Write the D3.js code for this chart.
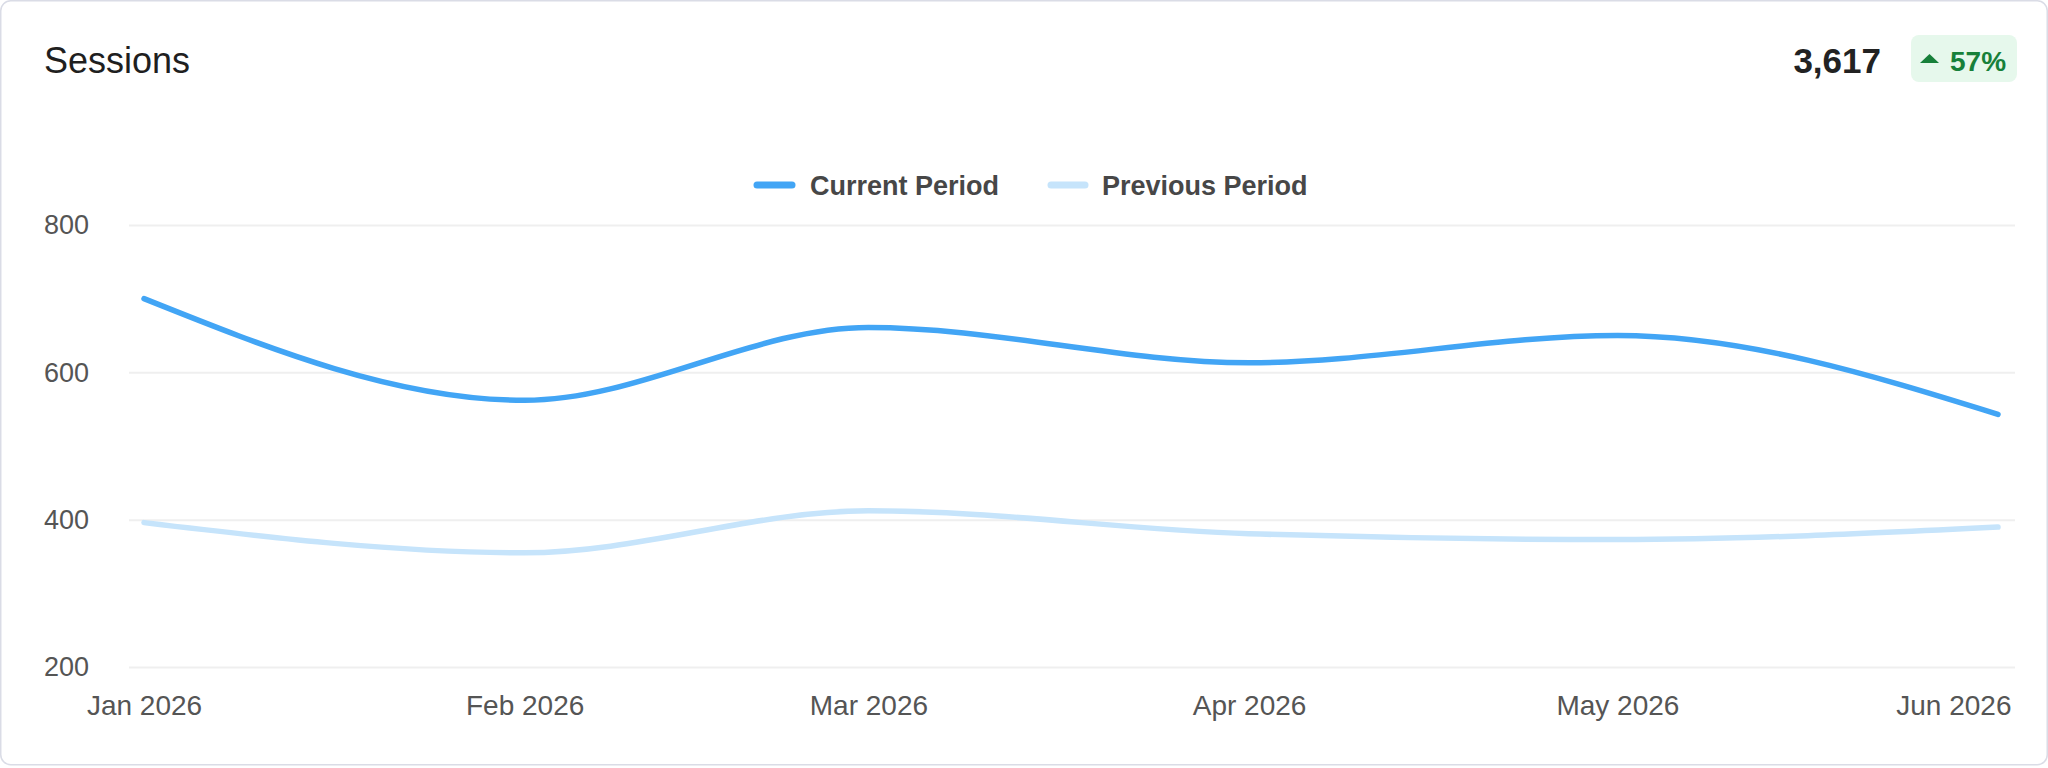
<!DOCTYPE html>
<html>
<head>
<meta charset="utf-8">
<script src="https://cdn.jsdelivr.net/npm/d3@7/dist/d3.min.js"></script>
<style>
  html, body { margin: 0; padding: 0; background: #ffffff; }
  svg { display: block; font-family: "Liberation Sans", Arial, sans-serif; }
</style>
</head>
<body>
<svg id="chart" width="2048" height="768"></svg>
<script>
// ---- data ----
const months = ["2026-01-01", "2026-02-01", "2026-03-01", "2026-04-01", "2026-05-01", "2026-06-01"];
const currentPeriod = [700, 562, 661, 613, 650, 543];
const previousPeriod = [396, 355, 412, 381, 373, 390];
const yTicks = [200, 400, 600, 800];
const seriesNames = ["Current Period", "Previous Period"];
const seriesColors = ["#42a5f5", "#c6e4fb"];
const titleText = "Sessions";
const totalText = "3,617";
const changeText = "57%";

// ---- layout ----
const W = 2048, H = 768;
const svg = d3.select("#chart");
const parse = d3.timeParse("%Y-%m-%d");
const dates = months.map(parse);

const gridLeft = 129, gridRight = 2015;
const x = d3.scaleTime().domain(d3.extent(dates)).range([144, 1998]);
const y = d3.scaleLinear().domain([200, 800]).range([667, 225]);

// card
svg.append("rect")
  .attr("x", 0.75).attr("y", 0.75).attr("width", W - 1.5).attr("height", H - 4)
  .attr("rx", 10).attr("fill", "#ffffff").attr("stroke", "#dadce6").attr("stroke-width", 1.5);

// title
svg.append("text").attr("x", 44).attr("y", 73)
  .attr("font-size", 36).attr("fill", "#1f1f1f").text(titleText);

// total
svg.append("text").attr("x", 1881).attr("y", 73).attr("text-anchor", "end")
  .attr("font-size", 35).attr("font-weight", "bold").attr("fill", "#222222").text(totalText);

// change badge
svg.append("rect").attr("x", 1911).attr("y", 35).attr("width", 106).attr("height", 47)
  .attr("rx", 8).attr("fill", "#e6f8ec");
svg.append("path").attr("d", "M1920,63 L1929.5,54 L1939,63 Z").attr("fill", "#17803a");
svg.append("text").attr("x", 1950).attr("y", 71)
  .attr("font-size", 28).attr("font-weight", "bold").attr("fill", "#17803a").text(changeText);

// y axis with grid
const yAxis = svg.append("g").attr("transform", `translate(${gridLeft},0)`)
  .call(d3.axisLeft(y).tickValues(yTicks).tickSize(-(gridRight - gridLeft)).tickPadding(40));
yAxis.select(".domain").remove();
yAxis.selectAll(".tick line").attr("stroke", "#efefef").attr("stroke-width", 2);
yAxis.selectAll(".tick text").attr("font-size", 27).attr("fill", "#555555")
  .attr("font-family", "Liberation Sans, Arial, sans-serif").attr("dy", "0.33em");

// x axis
const xAxis = svg.append("g").attr("transform", `translate(0,${y(200)})`)
  .call(d3.axisBottom(x).tickValues(dates).tickSize(0).tickFormat(d3.timeFormat("%b %Y")));
xAxis.select(".domain").remove();
xAxis.selectAll(".tick text").attr("font-size", 28).attr("fill", "#555555")
  .attr("font-family", "Liberation Sans, Arial, sans-serif")
  .attr("y", 48).attr("dy", 0);
// keep the last label inside the card (right-aligned to the grid end)
xAxis.selectAll(".tick").filter((d, i, n) => i === n.length - 1).select("text")
  .attr("text-anchor", "end").attr("x", (gridRight - 4) - x(dates[dates.length - 1]));

// lines
const line = d3.line().x((d, i) => x(dates[i])).y(d => y(d)).curve(d3.curveMonotoneX);
const seriesData = [currentPeriod, previousPeriod];
// draw previous first so current is on top
[1, 0].forEach(k => {
  svg.append("path").datum(seriesData[k])
    .attr("d", line).attr("fill", "none")
    .attr("stroke", seriesColors[k]).attr("stroke-width", 5.5)
    .attr("stroke-linecap", "round").attr("stroke-linejoin", "round");
});

// legend
const legendItems = [
  { x1: 757, x2: 792, tx: 810 },
  { x1: 1051, x2: 1085, tx: 1102 }
];
legendItems.forEach((it, i) => {
  svg.append("line").attr("x1", it.x1).attr("x2", it.x2).attr("y1", 185).attr("y2", 185)
    .attr("stroke", seriesColors[i]).attr("stroke-width", 7).attr("stroke-linecap", "round");
  svg.append("text").attr("x", it.tx).attr("y", 195)
    .attr("font-size", 27).attr("font-weight", "bold").attr("fill", "#474747").text(seriesNames[i]);
});
</script>
</body>
</html>
